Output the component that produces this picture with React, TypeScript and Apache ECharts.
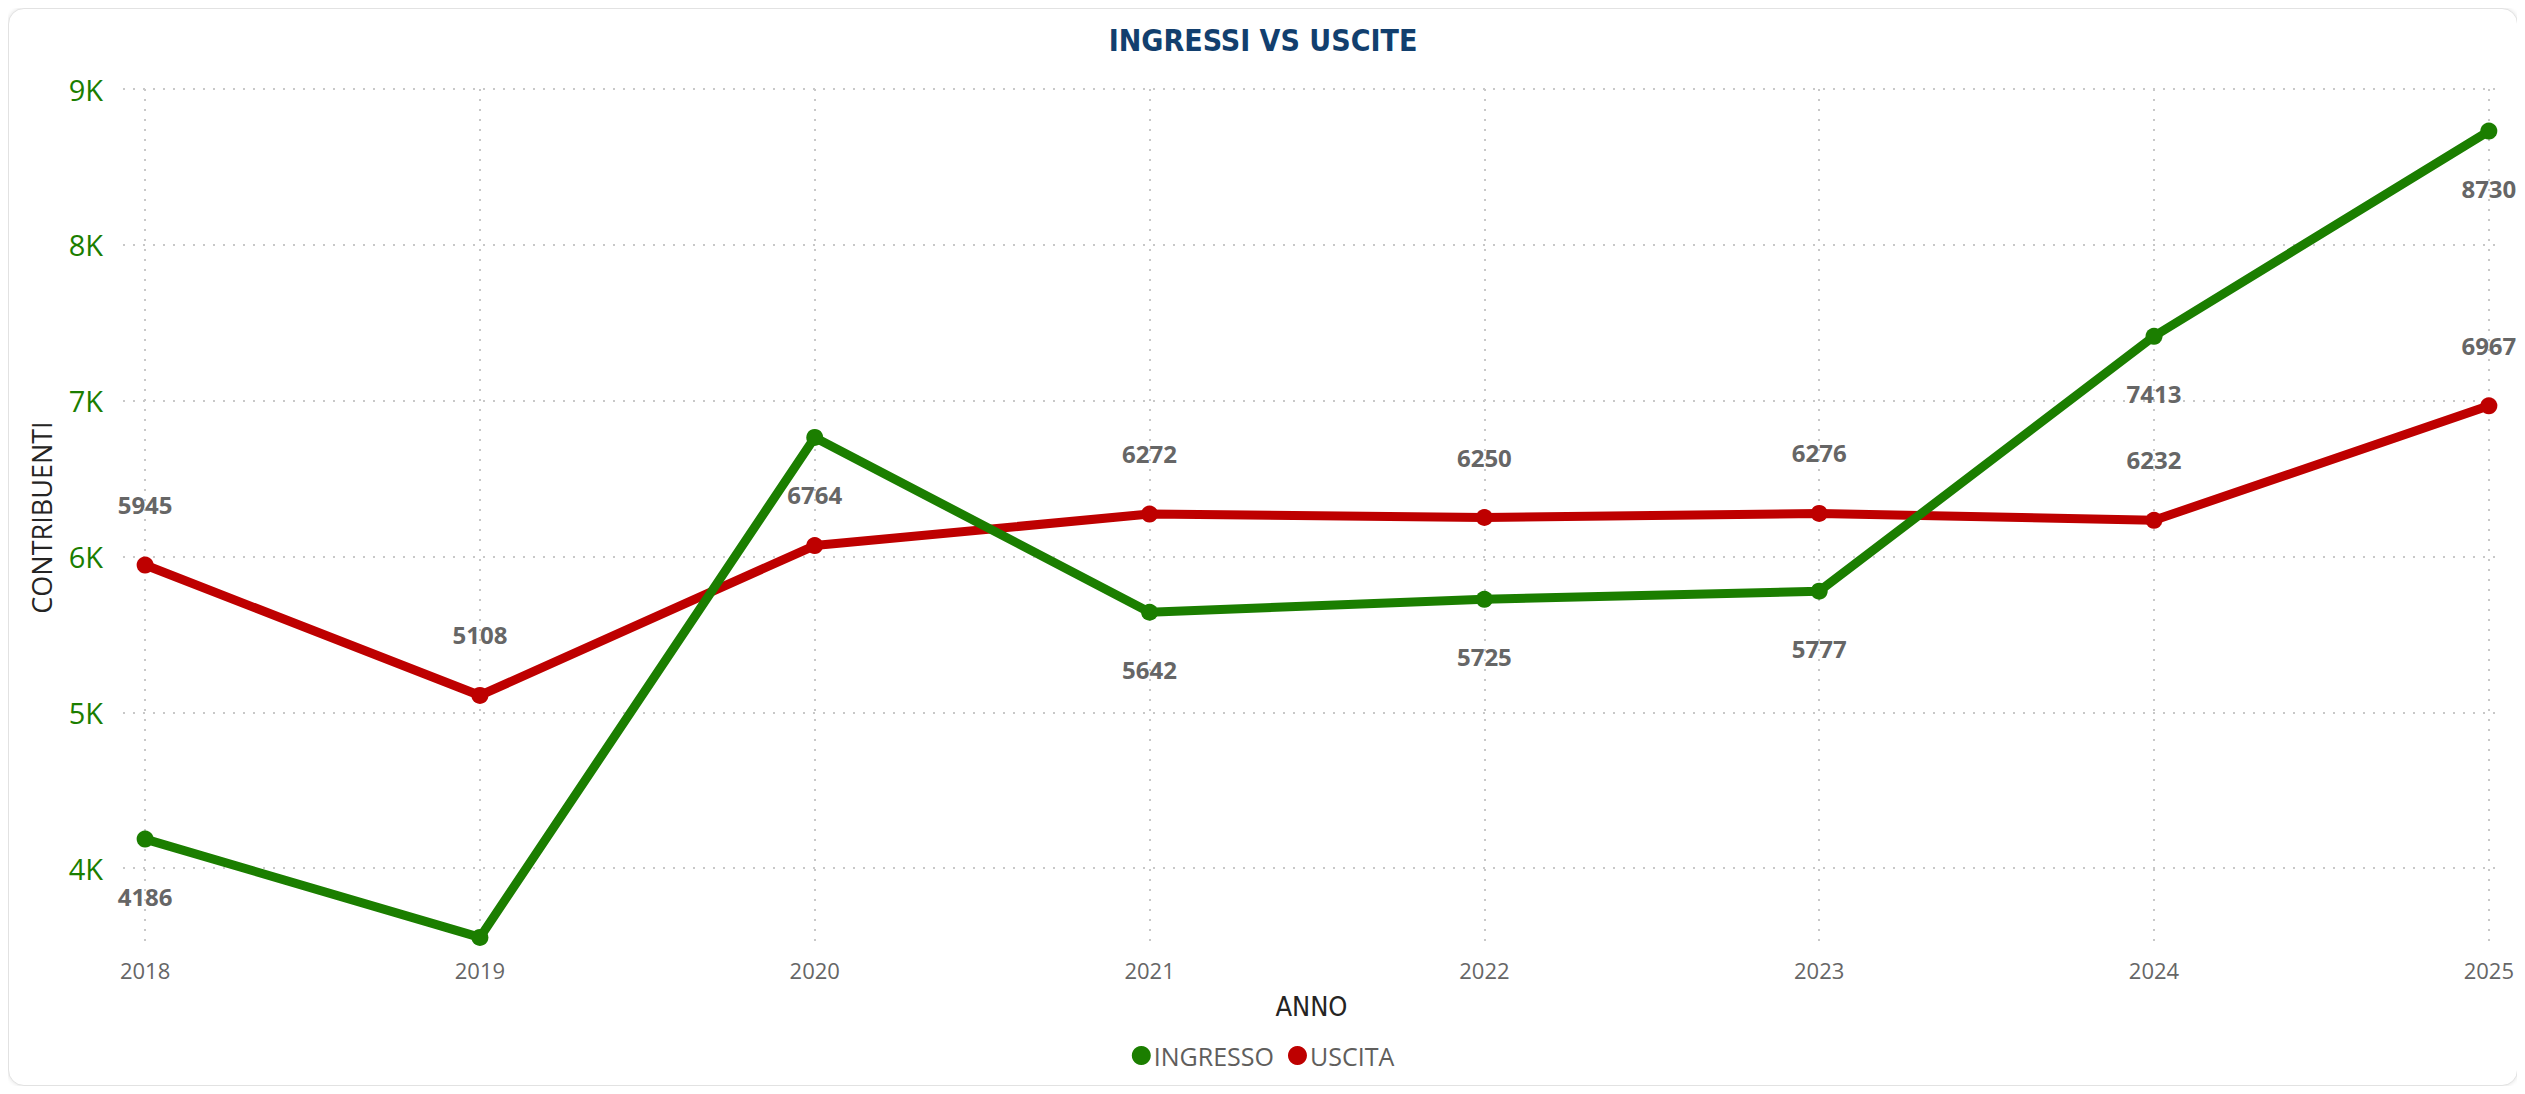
import React, { useEffect, useRef } from "react";
import * as echarts from "echarts";

const years = [2018, 2019, 2020, 2021, 2022, 2023, 2024, 2025];
const ingresso = [4186, 3555, 6764, 5642, 5725, 5777, 7413, 8730];
const uscita = [5945, 5108, 6070, 6272, 6250, 6276, 6232, 6967];
const hiddenIngressoLabels = [2019];
const hiddenUscitaLabels = [2020];
const yTicks = [4000, 5000, 6000, 7000, 8000, 9000];

const GREEN = "#1B7E00";
const RED = "#BE0000";

export default function App() {
  const ref = useRef<HTMLDivElement>(null);

  useEffect(() => {
    document.body.style.overflow = "hidden";
    const chart = echarts.init(ref.current!, null, { renderer: "svg" });

    const mk = (vals: number[], hidden: number[]) =>
      years.map((y, i) => ({
        value: [y, vals[i]],
        label: hidden.includes(y) ? { show: false } : undefined,
      }));

    const labelBase = {
      show: true,
      color: "#666666",
      fontFamily: "Open Sans",
      fontWeight: "bold" as const,
      fontSize: 24,
      formatter: (p: any) => String(p.value[1]),
    };

    chart.setOption({
      animation: false,
      title: {
        text: "INGRESSI VS USCITE",
        left: "center",
        top: 11,
        textStyle: {
          fontFamily: "DejaVu Sans Condensed",
          fontWeight: "bold",
          fontSize: 30,
          color: "#123F6E",
        },
      },
      legend: {
        top: 1029,
        left: "center",
        icon: "circle",
        itemWidth: 19,
        itemHeight: 19,
        itemGap: 14,
        textStyle: { fontFamily: "Open Sans", fontSize: 25, color: "#605E5C", padding: [0, 0, 0, -2] },
        data: ["INGRESSO", "USCITA"],
      },
      grid: { left: 114, right: 13, top: 80, bottom: 139, containLabel: false },
      xAxis: {
        type: "value",
        min: 2017.934,
        max: 2025.033,
        name: "ANNO",
        nameLocation: "middle",
        nameGap: 47,
        nameTextStyle: { fontFamily: "DejaVu Sans Condensed", fontSize: 27, color: "#252423" },
        axisLine: { show: false },
        axisTick: { show: false, customValues: years },
        axisLabel: {
          customValues: years,
          color: "#666666",
          fontFamily: "Open Sans",
          fontSize: 22,
          margin: 13,
          formatter: (v: number) => String(Math.round(v)),
        },
        splitLine: { show: true, lineStyle: { color: "#c8c8c8", width: 2, type: [2, 8] } },
      },
      yAxis: {
        type: "value",
        min: 3500,
        max: 9000,
        name: "CONTRIBUENTI",
        nameLocation: "middle",
        nameGap: 68,
        nameTextStyle: { fontFamily: "Open Sans", fontSize: 27, color: "#252423" },
        axisLine: { show: false },
        axisTick: { show: false, customValues: yTicks },
        axisLabel: {
          customValues: yTicks,
          color: GREEN,
          fontFamily: "Open Sans",
          fontSize: 29,
          margin: 20,
          formatter: (v: number) => v / 1000 + "K",
        },
        splitLine: { show: true, lineStyle: { color: "#c8c8c8", width: 2, type: [2, 8] } },
      },
      series: [
        {
          name: "INGRESSO",
          type: "line",
          data: mk(ingresso, hiddenIngressoLabels),
          color: GREEN,
          lineStyle: { width: 9, color: GREEN },
          symbol: "circle",
          symbolSize: 17,
          itemStyle: { color: GREEN },
          label: { ...labelBase, position: "bottom", distance: 37 },
          z: 3,
        },
        {
          name: "USCITA",
          type: "line",
          data: mk(uscita, hiddenUscitaLabels),
          color: RED,
          lineStyle: { width: 9, color: RED },
          symbol: "circle",
          symbolSize: 17,
          itemStyle: { color: RED },
          label: { ...labelBase, position: "top", distance: 40 },
          z: 2,
        },
      ],
    });

    return () => chart.dispose();
  }, []);

  return (
    <div
      ref={ref}
      style={{
        width: 2510,
        height: 1078,
        border: "1px solid #e2e2e2",
        borderRadius: 16,
        boxShadow: "0 0 4px rgba(0,0,0,0.12)",
        boxSizing: "border-box",
        background: "#fff",
        overflow: "hidden",
      }}
    />
  );
}
